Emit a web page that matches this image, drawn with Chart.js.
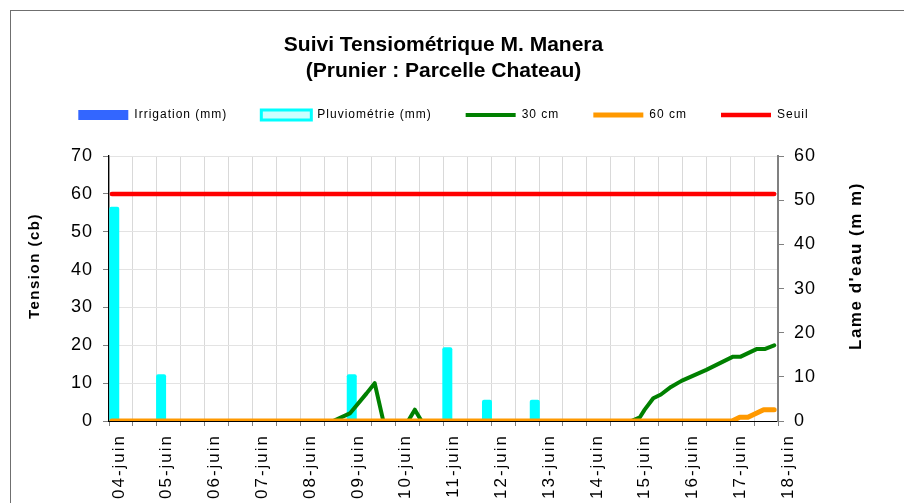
<!DOCTYPE html>
<html>
<head>
<meta charset="utf-8">
<title>Suivi Tensiométrique M. Manera</title>
<script src="https://cdn.jsdelivr.net/npm/chart.js@4.4.1/dist/chart.umd.min.js"></script>
<style>
  html, body { margin: 0; padding: 0; background: #fff; }
  #wrap { position: relative; width: 904px; height: 503px; overflow: hidden; }
  #frame { position: absolute; left: 10px; top: 10px; width: 2000px; height: 2000px;
           border-left: 1px solid #6f6f6f; border-top: 1px solid #6f6f6f; pointer-events: none; }
</style>
</head>
<body>
<div id="wrap">
  <canvas id="myChart" width="904" height="503"></canvas>
  <div id="frame"></div>
</div>
<script>
// x values are days counted from 04-juin 00h
const dateLabels = ['04-juin', '05-juin', '06-juin', '07-juin', '08-juin', '09-juin', '10-juin', '11-juin',
                    '12-juin', '13-juin', '14-juin', '15-juin', '16-juin', '17-juin', '18-juin'];

const irrigationDays = [];
const irrigationMm = [];

const pluvioDays = [0.11, 1.09, 5.08, 7.08, 7.91, 8.91];
const pluvioMm = [48.5, 10.6, 10.6, 16.7, 4.8, 4.8];

const t30Days = [0.06, 4.69, 5.04, 5.39, 5.56, 5.74, 6.26, 6.40, 6.54, 10.93, 11.11, 11.21, 11.39,
                 11.55, 11.76, 11.98, 12.5, 13.06, 13.22, 13.55, 13.72, 13.92];
const t30Cb = [0, 0, 2, 7.3, 10, 0, 0, 3, 0, 0, 1, 3, 6, 7, 9, 10.6, 13.5, 17, 17, 19, 19, 20];

const t60Days = [0.06, 13.04, 13.2, 13.37, 13.7, 13.92];
const t60Cb = [0, 0, 1, 1, 3, 3];

const seuilDays = [0.06, 13.92];
const seuilCb = [60, 60];

const titleLines = ['Suivi Tensiométrique M. Manera', '(Prunier : Parcelle Chateau)'];
const leftTitle = 'Tension (cb)';
const rightTitle = "Lame d'eau (m m)";

const FONT = "'Liberation Sans', Arial, sans-serif";
Chart.defaults.font.family = FONT;
Chart.defaults.color = '#000';

const pts = (xs, ys) => xs.map((x, i) => ({ x: x, y: ys[i] }));

// wrap a draw/fit method so its text gets the wide Excel-like letter spacing
function spaced(obj, name, spacing, dy) {
  const orig = obj[name];
  obj[name] = function (...args) {
    const ctx = this.ctx;
    ctx.save();
    ctx.letterSpacing = spacing;
    if (dy) ctx.translate(0, dy);
    const r = orig.apply(this, args);
    ctx.restore();
    return r;
  };
}

const excelLook = {
  id: 'excelLook',
  beforeLayout(chart) {
    if (chart.$patched) return;
    chart.$patched = true;
    const s = chart.scales;
    spaced(s.x, 'drawLabels', '2px');
    spaced(s.y, 'drawLabels', '1px');
    spaced(s.y1, 'drawLabels', '1px');
    spaced(s.y, 'drawTitle', '1.5px', -22.5);
    const lg = chart.legend;
    spaced(lg, 'draw', '1px');
    spaced(lg, 'fit', '1px');
    const fit = lg.fit;
    lg.fit = function () { fit.call(this); this.height += 25; };
  },
  afterDraw(chart) {
    const { ctx, chartArea } = chart;
    const y1 = chart.scales.y1;
    ctx.save();
    ctx.letterSpacing = '1.5px';
    ctx.font = 'bold 17px ' + FONT;
    ctx.fillStyle = '#000';
    ctx.textAlign = 'center';
    ctx.textBaseline = 'middle';
    ctx.translate(y1.right - 31, (chartArea.top + chartArea.bottom) / 2 - 22.5);
    ctx.rotate(-Math.PI / 2);
    ctx.fillText(rightTitle, 0, 0);
    ctx.restore();
  }
};

const data = {
  datasets: [{
    type: 'bar',
    label: 'Irrigation (mm)',
    data: pts(irrigationDays, irrigationMm),
    yAxisID: 'y1',
    backgroundColor: '#3366FF',
    pointStyle: 'rect',
    grouped: false,
    maxBarThickness: 10,
    order: 10
  }, {
    type: 'bar',
    label: 'Pluviométrie (mm)',
    data: pts(pluvioDays, pluvioMm),
    yAxisID: 'y1',
    backgroundColor: '#00FFFF',
    legendFill: '#CCFFFF',
    legendStroke: '#00FFFF',
    borderRadius: 2,
    borderSkipped: 'start',
    pointStyle: 'rect',
    grouped: false,
    maxBarThickness: 10,
    order: 10
  }, {
    label: '30 cm',
    data: pts(t30Days, t30Cb),
    yAxisID: 'y',
    borderColor: '#008000',
    backgroundColor: '#008000',
    borderWidth: 4,
    pointStyle: 'line',
    order: 5
  }, {
    label: '60 cm',
    data: pts(t60Days, t60Cb),
    yAxisID: 'y',
    borderColor: '#FF9900',
    backgroundColor: '#FF9900',
    borderWidth: 5,
    pointStyle: 'line',
    order: 4
  }, {
    label: 'Seuil',
    data: pts(seuilDays, seuilCb),
    yAxisID: 'y',
    borderColor: '#FF0000',
    backgroundColor: '#FF0000',
    borderWidth: 4.5,
    pointStyle: 'line',
    order: 3
  }]
};

const config = {
  type: 'line',
  data: data,
  options: {
    responsive: false,
    animation: false,
    devicePixelRatio: 1,
    layout: { padding: { top: 10, left: 0, right: 17, bottom: 0 } },
    elements: {
      point: { radius: 0, hoverRadius: 0 },
      line: { borderCapStyle: 'round', borderJoinStyle: 'round', tension: 0 }
    },
    plugins: {
      tooltip: { enabled: false },
      title: {
        display: true,
        text: titleLines,
        font: { size: 21, weight: 'bold', lineHeight: 1.24 },
        color: '#000',
        padding: { top: 22, bottom: -9 }
      },
      legend: {
        position: 'top',
        labels: {
          usePointStyle: true,
          pointStyleWidth: 50,
          boxHeight: 10,
          padding: 34,
          font: { size: 12 },
          color: '#000',
          sort: (a, b) => a.datasetIndex - b.datasetIndex,
          generateLabels(chart) {
            const items = Chart.defaults.plugins.legend.labels.generateLabels(chart);
            items.forEach(it => {
              const ds = chart.data.datasets[it.datasetIndex];
              if (ds.legendFill) {
                it.fillStyle = ds.legendFill;
                it.strokeStyle = ds.legendStroke;
                it.lineWidth = 3;
              }
            });
            return items;
          }
        }
      }
    },
    scales: {
      x: {
        type: 'linear',
        min: 0,
        max: 14,
        offset: false,
        grid: { offset: false, color: '#d9d9d9', tickColor: '#808080', tickLength: 5 },
        border: { color: '#000', width: 1 },
        ticks: {
          stepSize: 0.5,
          autoSkip: false,
          maxRotation: 90,
          minRotation: 90,
          padding: 8,
          labelOffset: 10,
          font: { size: 17 },
          color: '#000',
          callback: v => Number.isInteger(v) ? dateLabels[v] : ''
        },
        afterFit: s => { s.height = 82; }
      },
      y: {
        position: 'left',
        min: 0,
        max: 70,
        grid: { color: '#e3e3e3', tickColor: '#808080', tickLength: 6 },
        border: { color: '#000', width: 1.3 },
        ticks: { stepSize: 10, padding: 10, font: { size: 18 }, color: '#000' },
        title: {
          display: true,
          text: leftTitle,
          font: { size: 15, weight: 'bold' },
          color: '#000',
          padding: { top: 26, bottom: 0 }
        },
        afterFit: s => { s.width = 109; }
      },
      y1: {
        position: 'right',
        min: 0,
        max: 60,
        grid: { drawOnChartArea: false, tickColor: '#808080', tickLength: 6 },
        border: { color: '#808080', width: 2 },
        ticks: { stepSize: 10, padding: 10, font: { size: 18 }, color: '#000' },
        afterFit: s => { s.width = 109; }
      }
    }
  },
  plugins: [excelLook]
};

const myChart = new Chart(document.getElementById('myChart'), config);
</script>
</body>
</html>
